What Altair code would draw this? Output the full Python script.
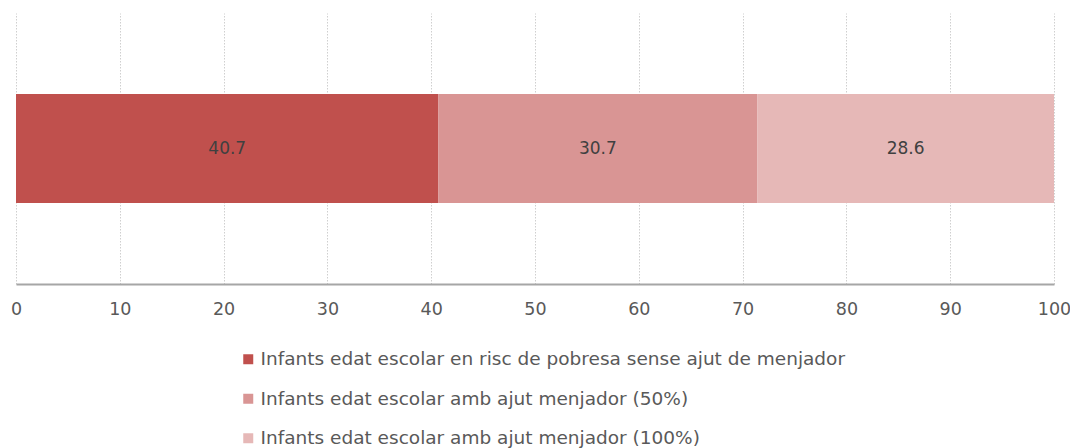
import altair as alt
import pandas as pd

categories = [
    "Infants edat escolar en risc de pobresa sense ajut de menjador",
    "Infants edat escolar amb ajut menjador (50%)",
    "Infants edat escolar amb ajut menjador (100%)",
]
values = [40.7, 30.7, 28.6]
colors = ["#C0504D", "#D99594", "#E6B8B7"]
x_ticks = [0, 10, 20, 30, 40, 50, 60, 70, 80, 90, 100]

df = pd.DataFrame({
    "cat": categories,
    "value": values,
    "order": list(range(len(categories))),
    "row": ["A"] * len(categories),
})

FONT = "DejaVu Sans"

base = alt.Chart(df).transform_stack(
    stack="value", groupby=["row"], as_=["x0", "x1"],
    sort=[alt.SortField("order", order="ascending")],
).transform_calculate(mid="(datum.x0 + datum.x1) / 2")

yenc = alt.Y("row:N", axis=None,
             scale=alt.Scale(paddingInner=0, paddingOuter=0.743))

bars = base.mark_bar().encode(
    x=alt.X("x0:Q", title=None,
            scale=alt.Scale(domain=[0, 100], nice=False, zero=True),
            axis=alt.Axis(values=x_ticks, grid=True, gridDash=[1.5, 1.5],
                          gridColor="#cfcfcf", gridWidth=1,
                          ticks=False, domainColor="#a6a6a6", domainWidth=2,
                          labelFontSize=17.5, labelColor="#595959", labelFont=FONT,
                          labelFlush=False, labelPadding=16, format="d")),
    x2="x1:Q",
    y=yenc,
    color=alt.Color("cat:N",
                    scale=alt.Scale(domain=categories, range=colors),
                    legend=alt.Legend(title=None, orient="none", legendX=223, legendY=337,
                                      symbolType="square", symbolSize=100,
                                      symbolStrokeWidth=0,
                                      labelFontSize=18.5, labelColor="#595959",
                                      labelFont=FONT, rowPadding=20.5,
                                      labelOffset=3, labelLimit=800)),
)

labels = base.mark_text(font=FONT, fontSize=17, color="#404040").encode(
    x=alt.X("mid:Q"),
    y=yenc,
    text=alt.Text("value:Q", format=".1f"),
)

chart = alt.layer(bars, labels).properties(
    width=1038, height=271,
    autosize=alt.AutoSizeParams(type="none"),
    padding={"left": 8, "top": 5, "right": 16, "bottom": 164},
).configure_view(stroke=None)

chart.save("out.html", embed_options={"renderer": "svg", "actions": False})
